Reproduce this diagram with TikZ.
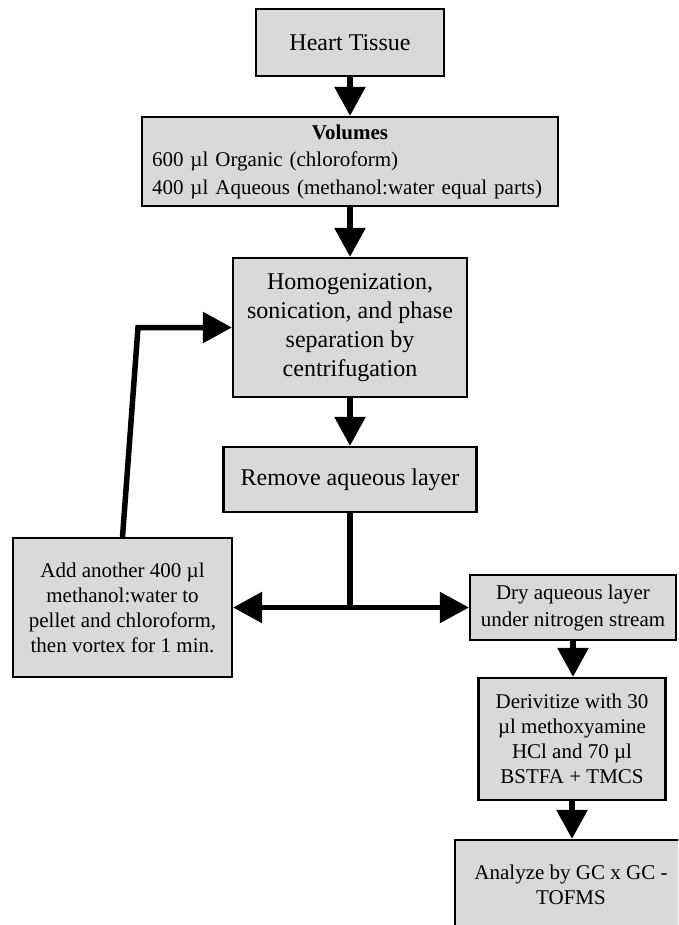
\documentclass[tikz,border=0pt]{standalone}
\usepackage{fontspec}
\setmainfont{Liberation Serif}
\usepackage{xcolor}
\usepackage{tikz}
\usetikzlibrary{calc}
\usetikzlibrary{arrows.meta}

\definecolor{boxgray}{RGB}{217,217,217}
\tikzset{
    box/.style={draw=black, line width=2.2pt, fill=boxgray, inner sep=0pt, align=center},
    flow/.style={line width=5.5pt, -{Triangle[length=29pt,width=30pt]}},
    bigtext/.style={font=\fontsize{24pt}{29pt}\selectfont},
    smalltext/.style={font=\fontsize{21pt}{25pt}\selectfont},
}

\begin{document}
\begin{tikzpicture}[x=1pt,y=-1pt]
        %FRAME
        \useasboundingbox (0,0) rectangle (678,925);
        \clip (0,0) rectangle (678,925);

        %BOXES
        \node[box, bigtext, minimum width=188pt, minimum height=67pt] (heart) at (350,42.5) {Heart Tissue};
        \node[box, font=\fontsize{21pt}{27.5pt}\selectfont, align=left, text width=396pt,
            minimum width=416pt, minimum height=89pt] (volumes) at (350,161.5)
            {\makebox[396pt][c]{\bfseries Volumes}\\600 µl Organic (chloroform)\\400 µl Aqueous (methanol:water equal parts)};
        \node[box, bigtext, minimum width=234pt, minimum height=139pt] (homog) at (350,327.5)
            {Homogenization,\\sonication, and phase\\separation by\\centrifugation};
        \node[box, bigtext, minimum width=253pt, minimum height=65pt] (remove) at (350,479.5) {Remove aqueous layer};
        \node[box, smalltext, minimum width=219pt, minimum height=139pt] (add) at (122.5,607.5)
            {Add another 400 µl\\methanol:water to\\pellet and chloroform,\\then vortex for 1 min.};
        \node[box, font=\fontsize{21pt}{27pt}\selectfont, minimum width=206pt, minimum height=65pt] (dry) at (573,607.5)
            {Dry aqueous layer\\under nitrogen stream};
        \node[box, smalltext, minimum width=187pt, minimum height=122pt] (deriv) at (572,739)
            {Derivitize with 30\\µl methoxyamine\\HCl and 70 µl\\BSTFA + TMCS};
        \node[box, smalltext, minimum width=232pt, minimum height=90pt] (analyze) at (571,885)
            {Analyze by GC x GC -\\TOFMS};

        %ARROWS
        \draw[flow] (heart) -- (volumes);
        \draw[flow] (volumes) -- (homog);
        \draw[flow] (homog) -- (remove);
        \coordinate (split) at (remove.south |- add.east);
        \draw[line width=5.5pt] (remove) -- (split);
        \draw[flow] (split) -- (add);
        \draw[flow] (split) -- (dry);
        \coordinate (bend) at (138,327.5);
        \draw[flow] (add.north) -- (bend) -- (homog);
        \draw[flow] (dry.south) -- (dry.south |- deriv.north);
        \draw[flow] (deriv.south) -- (deriv.south |- analyze.north);
    \end{tikzpicture}
\end{document}
